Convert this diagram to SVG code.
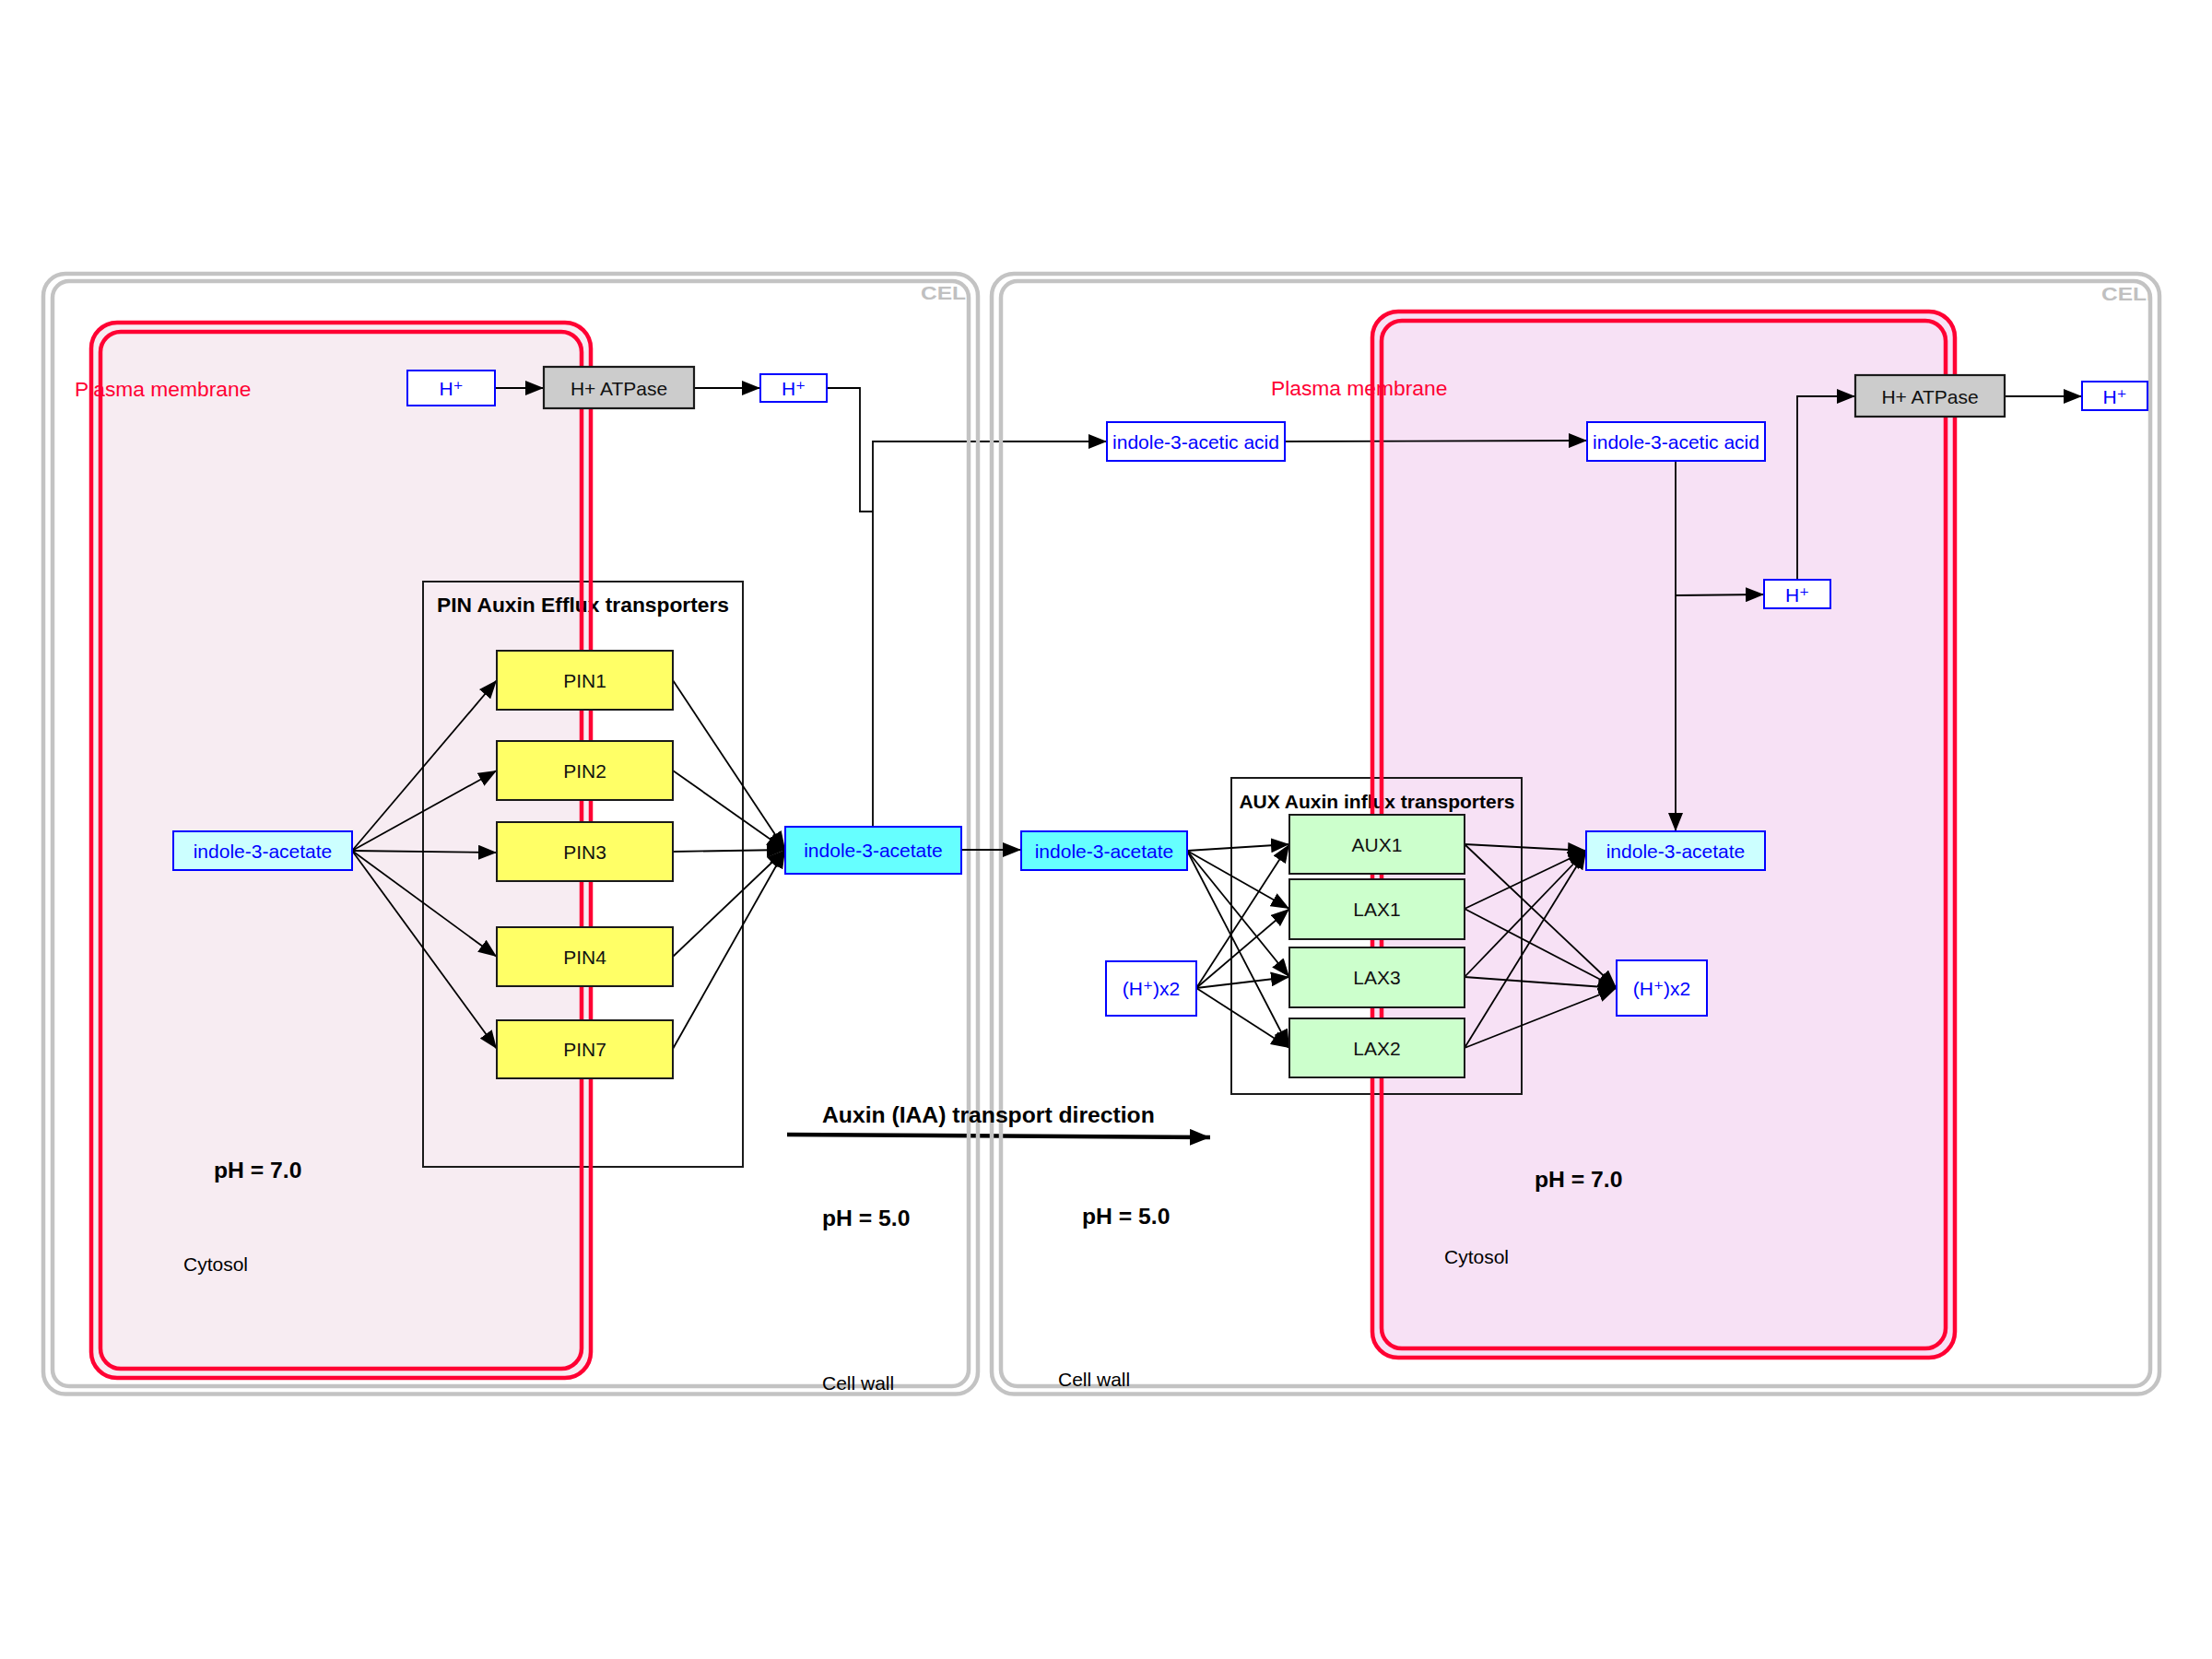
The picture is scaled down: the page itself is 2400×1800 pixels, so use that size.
<svg xmlns="http://www.w3.org/2000/svg" width="2400" height="1800" viewBox="0 0 2400 1800">
  <style>
    text { font-family: "Liberation Sans", Arial, "DejaVu Sans", sans-serif; }
    .wall { fill: none; stroke: #c3c3c3; stroke-width: 4.5; }
    .mem { fill: none; stroke: #ff0033; stroke-width: 4.5; }
    .grp { fill: none; stroke: #1a1a1a; stroke-width: 2; }
    .metab { fill: #ffffff; stroke: #0000ff; stroke-width: 2; }
    .cyanL { fill: #ccffff; stroke: #0000ff; stroke-width: 2; }
    .cyan { fill: #66ffff; stroke: #0000ff; stroke-width: 2; }
    .pin { fill: #ffff66; stroke: #1a1a1a; stroke-width: 2; }
    .aux { fill: #ccffcc; stroke: #1a1a1a; stroke-width: 2; }
    .atp { fill: #cccccc; stroke: #1a1a1a; stroke-width: 2.2; }
    .mt { fill: #0000ff; font-size: 21px; text-anchor: middle; dominant-baseline: central; }
    .pt { fill: #111111; font-size: 21px; text-anchor: middle; dominant-baseline: central; }
    .lbl { font-size: 21px; fill: #000000; }
    .ph { font-size: 24.7px; font-weight: bold; fill: #000000; }
    .pm { font-size: 22.8px; fill: #ff0033; }
    .cell { font-size: 19.5px; font-weight: bold; fill: #c0c0c0; }
    .edge { fill: none; stroke: #000000; stroke-width: 1.8; }
  </style>
  <defs>
    <marker id="arr" markerUnits="userSpaceOnUse" markerWidth="20" markerHeight="16" refX="20" refY="8" orient="auto">
      <path d="M0,0 L20,8 L0,16 z" fill="#000000"/>
    </marker>
    <marker id="bigarr" markerUnits="userSpaceOnUse" markerWidth="22" markerHeight="18" refX="22" refY="9" orient="auto">
      <path d="M0,0 L22,9 L0,18 z" fill="#000000"/>
    </marker>
    <clipPath id="clipCellL"><rect x="900" y="290" width="150" height="60"/></clipPath>
    <clipPath id="clipCellR"><rect x="2200" y="290" width="131" height="60"/></clipPath>
  </defs>

  <rect width="2400" height="1800" fill="#ffffff"/>

  <!-- cytosol fills of both plasma membranes -->
  <g id="membrane-fills">
    <rect x="99" y="350" width="542" height="1145" rx="28" fill="#f7ecf2"/>
    <rect x="1489" y="338" width="632" height="1135" rx="28" fill="#f7e1f5"/>
  </g>

  <!-- transporter groups -->
  <g id="group-pin">
    <rect class="grp" x="459" y="631" width="347" height="635"/>
  </g>
  <g id="group-aux">
    <rect class="grp" x="1336" y="844" width="315" height="343"/>
  </g>

  <!-- connectors -->
  <g id="connectors">
    <line class="edge" x1="537" y1="421" x2="590" y2="421" marker-end="url(#arr)"/>
    <line class="edge" x1="753" y1="421" x2="825" y2="421" marker-end="url(#arr)"/>
    <polyline class="edge" points="897,421 933,421 933,555 947,555"/>
    <polyline class="edge" points="947,897 947,479 1201,479" marker-end="url(#arr)"/>
    <line class="edge" x1="1394" y1="479" x2="1722" y2="478" marker-end="url(#arr)"/>
    <line class="edge" x1="1818" y1="500" x2="1818" y2="902" marker-end="url(#arr)"/>
    <line class="edge" x1="1818" y1="646" x2="1914" y2="645" marker-end="url(#arr)"/>
    <polyline class="edge" points="1950,629 1950,430 2013,430" marker-end="url(#arr)"/>
    <line class="edge" x1="2175" y1="430" x2="2259" y2="430" marker-end="url(#arr)"/>

    <!-- cytosolic IAA to PIN carriers -->
    <line class="edge" x1="382" y1="923" x2="539" y2="738" marker-end="url(#arr)"/>
    <line class="edge" x1="382" y1="923" x2="539" y2="836" marker-end="url(#arr)"/>
    <line class="edge" x1="382" y1="923" x2="539" y2="925" marker-end="url(#arr)"/>
    <line class="edge" x1="382" y1="923" x2="539" y2="1038" marker-end="url(#arr)"/>
    <line class="edge" x1="382" y1="923" x2="539" y2="1138" marker-end="url(#arr)"/>

    <!-- PIN carriers to apoplastic IAA -->
    <line class="edge" x1="730" y1="738" x2="852" y2="922" marker-end="url(#arr)"/>
    <line class="edge" x1="730" y1="836" x2="852" y2="922" marker-end="url(#arr)"/>
    <line class="edge" x1="730" y1="924" x2="852" y2="922" marker-end="url(#arr)"/>
    <line class="edge" x1="730" y1="1038" x2="852" y2="922" marker-end="url(#arr)"/>
    <line class="edge" x1="730" y1="1138" x2="852" y2="922" marker-end="url(#arr)"/>

    <!-- apoplastic IAA and protons to AUX/LAX carriers -->
    <line class="edge" x1="1288" y1="923" x2="1399" y2="916" marker-end="url(#arr)"/>
    <line class="edge" x1="1288" y1="923" x2="1399" y2="986" marker-end="url(#arr)"/>
    <line class="edge" x1="1288" y1="923" x2="1399" y2="1060" marker-end="url(#arr)"/>
    <line class="edge" x1="1288" y1="923" x2="1399" y2="1137" marker-end="url(#arr)"/>
    <line class="edge" x1="1298" y1="1072" x2="1399" y2="916" marker-end="url(#arr)"/>
    <line class="edge" x1="1298" y1="1072" x2="1399" y2="986" marker-end="url(#arr)"/>
    <line class="edge" x1="1298" y1="1072" x2="1399" y2="1060" marker-end="url(#arr)"/>
    <line class="edge" x1="1298" y1="1072" x2="1399" y2="1137" marker-end="url(#arr)"/>

    <!-- AUX/LAX carriers to cytosolic IAA and protons -->
    <line class="edge" x1="1589" y1="916" x2="1721" y2="923" marker-end="url(#arr)"/>
    <line class="edge" x1="1589" y1="986" x2="1721" y2="923" marker-end="url(#arr)"/>
    <line class="edge" x1="1589" y1="1060" x2="1721" y2="923" marker-end="url(#arr)"/>
    <line class="edge" x1="1589" y1="1137" x2="1721" y2="923" marker-end="url(#arr)"/>
    <line class="edge" x1="1589" y1="916" x2="1754" y2="1072" marker-end="url(#arr)"/>
    <line class="edge" x1="1589" y1="986" x2="1754" y2="1072" marker-end="url(#arr)"/>
    <line class="edge" x1="1589" y1="1060" x2="1754" y2="1072" marker-end="url(#arr)"/>
    <line class="edge" x1="1589" y1="1137" x2="1754" y2="1072" marker-end="url(#arr)"/>

    <!-- transport direction -->
    <line x1="854" y1="1231" x2="1313" y2="1234" stroke="#000" stroke-width="4.5" marker-end="url(#bigarr)"/>
  </g>

  <!-- cell walls -->
  <g id="cell-left">
    <rect class="wall" x="47" y="297" width="1014" height="1215.5" rx="24"/>
    <rect class="wall" x="57" y="305" width="994" height="1199" rx="18"/>
  </g>
  <g id="cell-right">
    <rect class="wall" x="1076" y="297" width="1267" height="1215.5" rx="24"/>
    <rect class="wall" x="1086" y="305" width="1247" height="1199" rx="18"/>
  </g>

  <!-- connector crossing the two walls, drawn above them -->
  <g id="connectors-front">
    <line class="edge" x1="1043" y1="922" x2="1108" y2="922" marker-end="url(#arr)"/>
  </g>

  <!-- free labels -->
  <g id="labels">
    <text x="632.5" y="664" text-anchor="middle" font-size="22.8" font-weight="bold" fill="#000">PIN Auxin Efflux transporters</text>
    <text x="1494" y="877" text-anchor="middle" font-size="21" font-weight="bold" fill="#000">AUX Auxin influx transporters</text>
    <text class="pm" x="81" y="430">Plasma membrane</text>
    <text class="pm" x="1379" y="429">Plasma membrane</text>
    <text class="ph" x="232" y="1278">pH = 7.0</text>
    <text class="lbl" x="199" y="1379">Cytosol</text>
    <text class="ph" x="892" y="1330">pH = 5.0</text>
    <text class="ph" x="1174" y="1328">pH = 5.0</text>
    <text class="ph" x="1665" y="1288">pH = 7.0</text>
    <text class="lbl" x="1567" y="1371">Cytosol</text>
    <text class="lbl" x="892" y="1508">Cell wall</text>
    <text class="lbl" x="1148" y="1504">Cell wall</text>
    <text class="ph" x="892" y="1218">Auxin (IAA) transport direction</text>
    <text class="cell" x="999" y="325" textLength="64" lengthAdjust="spacingAndGlyphs" clip-path="url(#clipCellL)">CELL</text>
    <text class="cell" x="2280" y="326" textLength="64" lengthAdjust="spacingAndGlyphs" clip-path="url(#clipCellR)">CELL</text>
  </g>

  <!-- plasma membrane double outlines -->
  <g id="membranes">
    <rect class="mem" x="99" y="350" width="542" height="1145" rx="28"/>
    <rect class="mem" x="109" y="360" width="522" height="1125" rx="22"/>
    <rect class="mem" x="1489" y="338" width="632" height="1135" rx="28"/>
    <rect class="mem" x="1499" y="348" width="612" height="1115" rx="22"/>
  </g>

  <!-- nodes -->
  <g id="hplus-1"><rect class="metab" x="442" y="402" width="95" height="38"/><text class="mt" x="489.5" y="421">H⁺</text></g>
  <g id="atpase-1"><rect class="atp" x="590" y="398" width="163" height="45"/><text class="pt" x="671.5" y="421">H+ ATPase</text></g>
  <g id="hplus-2"><rect class="metab" x="825" y="406" width="72" height="30"/><text class="mt" x="861" y="421">H⁺</text></g>
  <g id="iaa-acid-1"><rect class="metab" x="1201" y="458" width="193" height="42"/><text class="mt" x="1297.5" y="479">indole-3-acetic acid</text></g>
  <g id="iaa-acid-2"><rect class="metab" x="1722" y="458" width="193" height="42"/><text class="mt" x="1818.5" y="479">indole-3-acetic acid</text></g>
  <g id="atpase-2"><rect class="atp" x="2013" y="407" width="162" height="45"/><text class="pt" x="2094" y="430">H+ ATPase</text></g>
  <g id="hplus-3"><rect class="metab" x="2259" y="414" width="71" height="31"/><text class="mt" x="2294.5" y="430">H⁺</text></g>
  <g id="hplus-4"><rect class="metab" x="1914" y="629" width="72" height="31"/><text class="mt" x="1950" y="645">H⁺</text></g>

  <g id="iaa-cytosol-1"><rect class="cyanL" x="188" y="902" width="194" height="42"/><text class="mt" x="285" y="923">indole-3-acetate</text></g>
  <g id="pin1"><rect class="pin" x="539" y="706" width="191" height="64"/><text class="pt" x="634.5" y="738">PIN1</text></g>
  <g id="pin2"><rect class="pin" x="539" y="804" width="191" height="64"/><text class="pt" x="634.5" y="836">PIN2</text></g>
  <g id="pin3"><rect class="pin" x="539" y="892" width="191" height="64"/><text class="pt" x="634.5" y="924">PIN3</text></g>
  <g id="pin4"><rect class="pin" x="539" y="1006" width="191" height="64"/><text class="pt" x="634.5" y="1038">PIN4</text></g>
  <g id="pin7"><rect class="pin" x="539" y="1107" width="191" height="63"/><text class="pt" x="634.5" y="1138">PIN7</text></g>

  <g id="iaa-apoplast-1"><rect class="cyan" x="852" y="897" width="191" height="51"/><text class="mt" x="947.5" y="922">indole-3-acetate</text></g>
  <g id="iaa-apoplast-2"><rect class="cyan" x="1108" y="902" width="180" height="42"/><text class="mt" x="1198" y="923">indole-3-acetate</text></g>
  <g id="hplus2-apoplast"><rect class="metab" x="1200" y="1043" width="98" height="59"/><text class="mt" x="1249" y="1072">(H⁺)x2</text></g>

  <g id="aux1"><rect class="aux" x="1399" y="884" width="190" height="64"/><text class="pt" x="1494" y="916">AUX1</text></g>
  <g id="lax1"><rect class="aux" x="1399" y="954" width="190" height="65"/><text class="pt" x="1494" y="986">LAX1</text></g>
  <g id="lax3"><rect class="aux" x="1399" y="1028" width="190" height="65"/><text class="pt" x="1494" y="1060">LAX3</text></g>
  <g id="lax2"><rect class="aux" x="1399" y="1105" width="190" height="64"/><text class="pt" x="1494" y="1137">LAX2</text></g>

  <g id="iaa-cytosol-2"><rect class="cyanL" x="1721" y="902" width="194" height="42"/><text class="mt" x="1818" y="923">indole-3-acetate</text></g>
  <g id="hplus2-cytosol"><rect class="metab" x="1754" y="1042" width="98" height="60"/><text class="mt" x="1803" y="1072">(H⁺)x2</text></g>
</svg>
